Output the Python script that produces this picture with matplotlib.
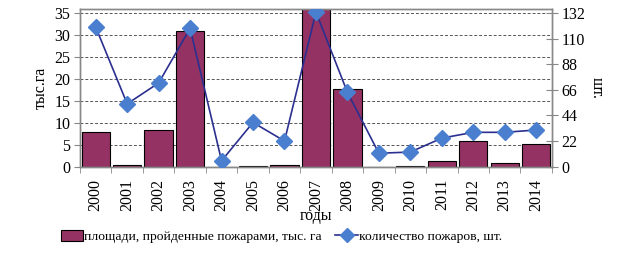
import matplotlib
matplotlib.use("Agg")
import matplotlib.pyplot as plt
import numpy as np
from matplotlib.ticker import FixedLocator

years = ["2000", "2001", "2002", "2003", "2004", "2005", "2006", "2007",
         "2008", "2009", "2010", "2011", "2012", "2013", "2014"]
area = [8.0, 0.4, 8.4, 31.0, 0.0, 0.15, 0.25, 35.9, 17.7, 0.0, 0.1, 1.2, 5.9, 0.8, 5.2]
fires = [120, 54, 72, 119, 5, 38, 22, 133, 64, 11.5, 12.5, 24.5, 29.5, 29.5, 31.5]

left_ticks = [0, 5, 10, 15, 20, 25, 30, 35]
right_ticks = [0, 22, 44, 66, 88, 110, 132]

plt.rcParams['font.family'] = ['Liberation Serif', 'DejaVu Serif']
fs = 11.5

fig = plt.figure(figsize=(6.25, 2.74), dpi=100)
ax = fig.add_axes([0.128, 0.392, 0.755, 0.574])
x = np.arange(len(years))
bars = ax.bar(x, area, width=0.9, color='#943363', edgecolor='black', linewidth=0.8,
              label='площади, пройденные пожарами, тыс. га', zorder=2)
ax.set_ylim(0, 35.9)
ax.set_xlim(-0.5, len(years) - 0.5)
ax.set_yticks(left_ticks)
ax.set_yticklabels([str(t) for t in left_ticks], fontsize=fs)
ax.yaxis.grid(True, linestyle=(0, (3, 2)), color='#555555', linewidth=0.7, zorder=0)
ax.set_axisbelow(True)
ax.set_xticks(x)
ax.set_xticklabels(years, rotation=90, fontsize=fs)
ax.tick_params(axis='x', length=0, pad=9)
ax.xaxis.set_minor_locator(FixedLocator(np.arange(-0.5, len(years), 1.0)))
ax.tick_params(axis='x', which='minor', length=4, color='#888888', direction='out')
ax.tick_params(axis='y', length=4, color='#888888', direction='out', pad=3)
for s in ax.spines.values():
    s.set_color('#888888')
    s.set_linewidth(1.0)
ax.set_ylabel('тыс.га', fontsize=fs, labelpad=4)
ax.set_xlabel('годы', fontsize=fs, labelpad=-2)

ax2 = ax.twinx()
line, = ax2.plot(x, fires, color='#2b2f8f', linewidth=1.2, marker='D', markersize=8.5,
                 markerfacecolor='#4a7fd0', markeredgecolor='#4a7fd0',
                 label='количество пожаров, шт.', zorder=3)
ax2.set_ylim(0, 35.9 * 132 / 35)
ax2.set_yticks(right_ticks)
ax2.set_yticklabels([str(t) for t in right_ticks], fontsize=fs)
ax2.tick_params(axis='y', length=8, color='#888888', direction='inout', pad=3)
for s in ax2.spines.values():
    s.set_color('#888888')
    s.set_linewidth(1.0)
ax2.set_ylabel('шт.', fontsize=fs, rotation=-90, labelpad=14)

leg = fig.legend([bars, line], ['площади, пройденные пожарами, тыс. га', 'количество пожаров, шт.'],
                 loc='center', bbox_to_anchor=(0.45, 0.138), ncol=2, frameon=False,
                 fontsize=9.7, handlelength=1.7, handleheight=0.9, handletextpad=0.05,
                 columnspacing=1.0, borderaxespad=0)
for lh in leg.legend_handles:
    if hasattr(lh, 'set_markersize'):
        lh.set_markersize(7)

fig.savefig('out.png', dpi=100)
